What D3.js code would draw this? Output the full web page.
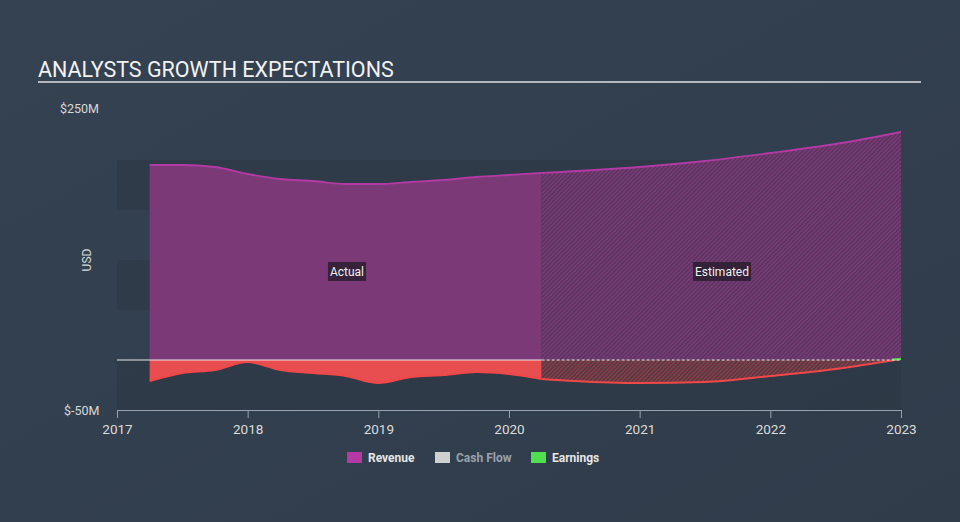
<!DOCTYPE html>
<html>
<head>
<meta charset="utf-8">
<script src="https://cdn.jsdelivr.net/npm/d3@7"></script>
<style>
  body { margin: 0; background: #333f4f; }
  svg { display: block; font-family: Roboto, "Open Sans", sans-serif; }
</style>
</head>
<body>
<div id="chart"></div>
<script>
// data (values in $M, dates as fractional years)
var revenueYears  = [2017.25, 2017.5, 2017.75, 2018.0, 2018.25, 2018.5, 2018.75, 2019.0, 2019.25, 2019.5, 2019.75, 2020.0, 2020.25];
var revenueValues = [195, 195, 193, 186, 181, 179, 176, 176, 178, 180, 183, 185, 187];
var revenueEstYears  = [2020.25, 2021.0, 2021.5, 2022.0, 2022.5, 2023.0];
var revenueEstValues = [187, 193, 199, 207, 216, 228];

var earningsYears  = [2017.25, 2017.5, 2017.75, 2018.0, 2018.25, 2018.5, 2018.75, 2019.0, 2019.25, 2019.5, 2019.75, 2020.0, 2020.25];
var earningsValues = [-21, -13, -10, -2, -10, -13, -16, -23, -17, -15, -12, -14, -19];
var earningsEstYears  = [2020.25, 2020.5, 2021.0, 2021.5, 2022.0, 2022.5, 2023.0];
var earningsEstValues = [-19, -21, -23, -22, -16, -9, 1];

var yearTicks = [2017, 2018, 2019, 2020, 2021, 2022, 2023];
var yTickLabels = ['$250M', '$-50M'];
var legendNames = ['Revenue', 'Cash Flow', 'Earnings'];
var legendColors = ['#b33aa4', '#d0d0d0', '#4fe04f'];

var width = 960, height = 522;

var svg = d3.select('#chart').append('svg')
    .attr('width', width)
    .attr('height', height);

var defs = svg.append('defs');
var bg = defs.append('linearGradient').attr('id', 'bg')
    .attr('x1', 0).attr('y1', 0).attr('x2', 1).attr('y2', 1);
bg.append('stop').attr('offset', '0%').attr('stop-color', '#344252');
bg.append('stop').attr('offset', '100%').attr('stop-color', '#303c4a');

// hatch patterns for the estimated part
function hatch(id, bgc, line) {
    var p = defs.append('pattern').attr('id', id)
        .attr('patternUnits', 'userSpaceOnUse')
        .attr('width', 3).attr('height', 3)
        .attr('patternTransform', 'rotate(45)');
    p.append('rect').attr('width', 3).attr('height', 3).attr('fill', bgc);
    p.append('rect').attr('width', 1.8).attr('height', 3).attr('fill', line);
}
hatch('hatchRev', '#4e3458', '#7b3a77');
hatch('hatchEarn', '#3e3a46', '#8e3c44');

svg.append('rect').attr('width', width).attr('height', height).attr('fill', 'url(#bg)');

// title
svg.append('text')
    .attr('x', 38).attr('y', 77)
    .attr('fill', '#f2f2f2')
    .attr('font-size', 21.5)
    .text('ANALYSTS GROWTH EXPECTATIONS');
svg.append('line')
    .attr('x1', 38).attr('x2', 921)
    .attr('y1', 82).attr('y2', 82)
    .attr('stroke', '#b4b8be').attr('stroke-width', 2);

var x = d3.scaleLinear().domain([2017, 2023]).range([117, 901]);
var y = d3.scaleLinear().domain([-50, 250]).range([410, 110]);

// alternating bands
var bands = [[150, 200], [50, 100], [-50, 0]];
svg.selectAll('.band').data(bands).enter().append('rect')
    .attr('x', x(2017))
    .attr('width', x(2023) - x(2017))
    .attr('y', d => y(d[1]))
    .attr('height', d => y(d[0]) - y(d[1]))
    .attr('fill', '#2b3744')
    .attr('opacity', 0.55);

var curve = d3.curveMonotoneX;

function areaPath(xs, vs) {
    var pts = xs.map((v, i) => [v, vs[i]]);
    return d3.area().x(d => x(d[0])).y0(y(0)).y1(d => y(d[1])).curve(curve)(pts);
}
function linePath(xs, vs) {
    var pts = xs.map((v, i) => [v, vs[i]]);
    return d3.line().x(d => x(d[0])).y(d => y(d[1])).curve(curve)(pts);
}

// revenue
svg.append('path').attr('d', areaPath(revenueYears, revenueValues)).attr('fill', '#7b3a77');
svg.append('path').attr('d', areaPath(revenueEstYears, revenueEstValues)).attr('fill', 'url(#hatchRev)');
svg.append('path').attr('d', linePath(revenueYears, revenueValues))
    .attr('fill', 'none').attr('stroke', '#b33aa4').attr('stroke-width', 1.8);
svg.append('path').attr('d', linePath(revenueEstYears, revenueEstValues))
    .attr('fill', 'none').attr('stroke', '#b33aa4').attr('stroke-width', 1.8);

// earnings
svg.append('path').attr('d', areaPath(earningsYears, earningsValues)).attr('fill', '#e84d50');
svg.append('path').attr('d', areaPath(earningsEstYears, earningsEstValues)).attr('fill', 'url(#hatchEarn)');
svg.append('path').attr('d', linePath(earningsYears, earningsValues))
    .attr('fill', 'none').attr('stroke', '#f04848').attr('stroke-width', 2);
svg.append('path').attr('d', linePath(earningsEstYears, earningsEstValues))
    .attr('fill', 'none').attr('stroke', '#f04848').attr('stroke-width', 2);

// positive earnings tail in green
var n = earningsEstYears.length;
svg.append('line')
    .attr('x1', x(2022.93)).attr('x2', x(earningsEstYears[n - 1]))
    .attr('y1', y(0) - 0.5).attr('y2', y(earningsEstValues[n - 1]))
    .attr('stroke', '#4fe04f').attr('stroke-width', 2);

// zero line
svg.append('line')
    .attr('x1', x(2017)).attr('x2', x(2020.25))
    .attr('y1', y(0)).attr('y2', y(0))
    .attr('stroke', '#e8e8e8').attr('stroke-width', 1);
svg.append('line')
    .attr('x1', x(2020.25)).attr('x2', x(2023))
    .attr('y1', y(0)).attr('y2', y(0))
    .attr('stroke', '#e8e8e8').attr('stroke-width', 1)
    .attr('stroke-dasharray', '3,2');

// Actual / Estimated labels
function tag(text, cx) {
    var g = svg.append('g');
    var t = g.append('text')
        .attr('x', cx).attr('y', 276)
        .attr('text-anchor', 'middle')
        .attr('font-size', 12)
        .attr('fill', '#f0f0f0')
        .text(text);
    var b = t.node().getBBox();
    g.insert('rect', 'text')
        .attr('x', b.x - 2).attr('y', 262)
        .attr('width', b.width + 4).attr('height', 19)
        .attr('fill', '#2a1e30').attr('opacity', 0.85);
}
tag('Actual', 347);
tag('Estimated', 722);

// x axis
var xAxis = d3.axisBottom(x)
    .tickValues(yearTicks)
    .tickFormat(d3.format('d'))
    .tickSize(8)
    .tickSizeOuter(0);
var xg = svg.append('g')
    .attr('transform', `translate(0, ${y(-50)})`)
    .call(xAxis);
xg.select('.domain').attr('stroke', '#98a2b0');
xg.selectAll('.tick line').attr('stroke', '#98a2b0');
xg.selectAll('.tick text')
    .attr('fill', '#dcdcdc')
    .attr('font-size', 13.5)
    .attr('font-family', 'Roboto, sans-serif')
    .attr('dy', '0.95em');

// y labels
svg.append('text').attr('x', 60).attr('y', y(250) + 3)
    .attr('fill', '#d8d8d8').attr('font-size', 12.5).text(yTickLabels[0]);
svg.append('text').attr('x', 64).attr('y', y(-50) + 5)
    .attr('fill', '#d8d8d8').attr('font-size', 12.5).text(yTickLabels[1]);
svg.append('text')
    .attr('transform', 'translate(91, 260) rotate(-90)')
    .attr('text-anchor', 'middle')
    .attr('fill', '#d8d8d8').attr('font-size', 12)
    .text('USD');

// legend
var legendX = [347, 435, 531];
var legend = svg.selectAll('.legend').data(legendNames).enter().append('g')
    .attr('transform', (d, i) => `translate(${legendX[i]}, 452)`);
legend.append('rect')
    .attr('width', 15).attr('height', 11)
    .attr('fill', (d, i) => legendColors[i]);
legend.append('text')
    .attr('x', 21).attr('y', 10)
    .attr('font-size', 12).attr('font-weight', 'bold')
    .attr('fill', (d, i) => i === 1 ? '#9aa2ac' : '#e6e6e6')
    .text(d => d);
</script>
</body>
</html>
